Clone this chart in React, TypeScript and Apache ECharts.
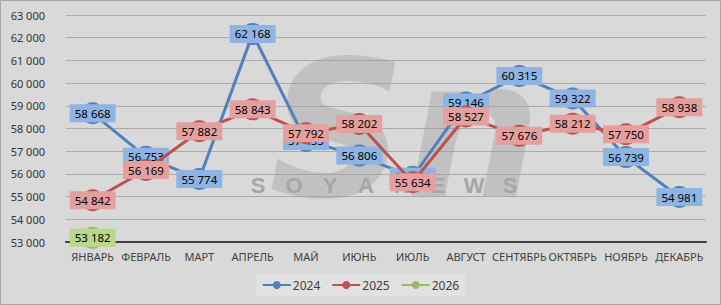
import { useEffect, useRef } from 'react';
import * as echarts from 'echarts';

const months = ['ЯНВАРЬ', 'ФЕВРАЛЬ', 'МАРТ', 'АПРЕЛЬ', 'МАЙ', 'ИЮНЬ', 'ИЮЛЬ', 'АВГУСТ', 'СЕНТЯБРЬ', 'ОКТЯБРЬ', 'НОЯБРЬ', 'ДЕКАБРЬ'];
const series2024 = [58668, 56753, 55774, 62168, 57453, 56806, 55871, 59146, 60315, 59322, 56739, 54981];
const series2025 = [54842, 56169, 57882, 58843, 57792, 58202, 55634, 58527, 57676, 58212, 57750, 58938];
const series2026 = [53182, null, null, null, null, null, null, null, null, null, null, null];
const seriesNames = ['2024', '2025', '2026'];
const yMin = 53000;
const yMax = 63000;
const yStep = 1000;
const watermarkLetters = ['S', 'O', 'Y', 'A', 'N', 'E', 'W', 'S'];

function fmt(v: number): string {
  const t = Math.floor(v / 1000);
  const r = Math.round(v % 1000);
  return `${t} ${String(r).padStart(3, '0')}`;
}

const lineColors = ['#4f81bd', '#c0504d', '#9bbb59'];
const labelColors = ['#8eb4e3', '#e4a09e', '#b8d88b'];
const FONT = 'Noto Sans';

export default function App() {
  const ref = useRef<HTMLDivElement>(null);
  useEffect(() => {
    if (!ref.current) return;
    const chart = echarts.init(ref.current, undefined, { renderer: 'svg' });
    const data = [series2024, series2025, series2026];
    const letters = watermarkLetters.map((ch, i) => ({
      type: 'text',
      x: 258 + i * 36,
      y: 185,
      z: 1,
      silent: true,
      style: {
        text: ch,
        fill: '#a6a6a6',
        font: `bold 22px "Liberation Sans"`,
        align: 'center',
        verticalAlign: 'middle',
      },
    }));
    chart.setOption({
      animation: false,
      backgroundColor: '#d9d9d9',
      textStyle: { fontFamily: FONT },
      graphic: [
        {
          type: 'rect',
          shape: { x: 0.5, y: 0.5, width: 720, height: 304 },
          style: { fill: 'none', stroke: '#a6a6a6', lineWidth: 1 },
          z: 0,
          silent: true,
        },
        {
          type: 'text',
          x: 405,
          y: 130,
          z: 1,
          silent: true,
          style: {
            text: 'Sn',
            fill: 'rgba(150,150,150,0.35)',
            font: `italic bold 190px "DejaVu Sans"`,
            align: 'center',
            verticalAlign: 'middle',
          },
        },
        ...letters,
      ],
      grid: { left: 66, right: 15, top: 15, bottom: 63 },
      legend: {
        data: seriesNames,
        bottom: 9,
        left: 'center',
        itemWidth: 28,
        itemHeight: 10,
        itemGap: 11,
        padding: [5, 6],
        backgroundColor: '#e1e1e1',
        textStyle: { color: '#404040', fontSize: 12, fontFamily: FONT, padding: [0, 0, 0, -3] },
      },
      xAxis: {
        type: 'category',
        data: months,
        boundaryGap: true,
        axisLine: { lineStyle: { color: '#404040', width: 2 } },
        axisTick: { show: false },
        axisLabel: { interval: 0, color: '#404040', fontSize: 11, margin: 9, fontFamily: FONT },
      },
      yAxis: {
        type: 'value',
        min: yMin,
        max: yMax,
        interval: yStep,
        axisLine: { show: false },
        axisTick: { show: false },
        splitLine: { lineStyle: { color: '#ababab', width: 1 } },
        axisLabel: { color: '#333333', fontSize: 11, margin: 21, formatter: (v: number) => fmt(v), fontFamily: FONT },
      },
      series: seriesNames.map((name, i) => ({
        name,
        type: 'line',
        data: data[i],
        symbol: 'circle',
        symbolSize: 22,
        z: 3 + i,
        itemStyle: { color: lineColors[i] },
        lineStyle: { color: lineColors[i], width: 3 },
        connectNulls: false,
        label: {
          show: true,
          position: 'inside',
          color: '#000',
          fontSize: 11.5,
          fontFamily: FONT,
          backgroundColor: labelColors[i],
          padding: [3, 5, 3, 5],
          formatter: (p: any) => fmt(p.value),
        },
      })),
    });
    return () => chart.dispose();
  }, []);
  return <div ref={ref} style={{ position: 'fixed', left: 0, top: 0, width: 721, height: 305 }} />;
}
